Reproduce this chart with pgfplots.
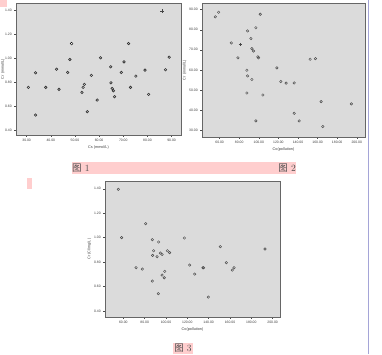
\documentclass[border=0pt]{standalone}
\usepackage{pgfplots}
\pgfplotsset{compat=1.18}
\usepackage{fontspec}
\setsansfont{Liberation Sans}
\newfontfamily\cjk{Noto Sans CJK SC}
\definecolor{panel}{RGB}{219,219,219}
\definecolor{pinkbg}{RGB}{255,206,206}
\definecolor{purpleline}{RGB}{165,165,215}
\definecolor{mk}{RGB}{70,70,70}
\pgfplotsset{
  spss/.style={
    scale only axis, anchor=south west,
    axis background/.style={fill=panel},
    axis line style={draw=black!60, line width=0.7pt},
    tick align=outside, major tick length=1.6pt,
    tick style={black!70, line width=0.4pt},
    xtick pos=bottom, ytick pos=left,
    tick label style={font=\sffamily\fontsize{3.4}{4}\selectfont, text=black!75},
    /pgf/number format/assume math mode=true,
    label style={font=\sffamily\fontsize{3.8}{4.5}\selectfont, text=black!75},
    xticklabel={\pgfmathprintnumber[fixed,fixed zerofill,precision=2]{\tick}},
    yticklabel={\pgfmathprintnumber[fixed,fixed zerofill,precision=2]{\tick}},
    xticklabel style={yshift=0.8pt},
    yticklabel style={xshift=0.8pt},
    xlabel style={yshift=3pt},
    ylabel style={yshift=-4pt},
  },
  dots/.style={only marks, mark=o, mark size=1.25pt, mark options={draw=mk, line width=0.45pt}},
}
\begin{document}
\begin{tikzpicture}
\useasboundingbox (0pt,0pt) rectangle (382pt,354pt);
\fill[white] (0pt,0pt) rectangle (382pt,354pt);
% decorations
\fill[pinkbg] (0pt,347pt) rectangle (7pt,354pt);
\fill[pinkbg] (72pt,180pt) rectangle (296pt,192pt);
\fill[pinkbg] (27pt,165pt) rectangle (32pt,176pt);
\fill[pinkbg] (173pt,0pt) rectangle (193pt,11pt);
\draw[purpleline, line width=1pt] (368pt,0pt) -- (368pt,354pt);
\node[anchor=west, inner sep=0pt, font=\fontsize{9.5}{10}\selectfont, text=black!70] at (72pt,186pt) {{\cjk 图} 1};
\node[anchor=east, inner sep=0pt, font=\fontsize{9.5}{10}\selectfont, text=black!70] at (296pt,186pt) {{\cjk 图} 2};
\node[anchor=center, inner sep=0pt, font=\fontsize{9.5}{10}\selectfont, text=black!70] at (183pt,5.5pt) {{\cjk 图} 3};

% ---------- Plot 1 ----------
\begin{axis}[spss, at={(16pt,219pt)}, width=165pt, height=132pt,
  xmin=25.6, xmax=93.9, ymin=0.358, ymax=1.461,
  xtick={30,40,50,60,70,80,90}, ytick={0.4,0.6,0.8,1.0,1.2,1.4},
  xlabel={Cs (mmol/L)}, ylabel={Cr (mmol/L)},
  ylabel style={yshift=-2.5pt},
  mark options={line width=0.6pt}]
\addplot[dots, mark options={draw=black!80, line width=0.6pt}] coordinates {
(30.7,0.756) (33.7,0.878) (33.7,0.525) (37.9,0.756) (42.4,0.908) (43.4,0.739)
(47.0,0.881) (47.9,0.989) (52.9,0.714) (53.4,0.756) (53.9,0.781)
(55.1,0.553) (56.8,0.856) (59.2,0.650) (60.6,1.003) (64.8,0.928) (64.9,0.794)
(65.4,0.747) (65.9,0.728) (66.4,0.678) (69.2,0.881) (70.3,0.969) (72.2,1.122)
(73.0,0.756) (75.2,0.850) (79.0,0.900) (80.5,0.697) (87.5,0.903) (89.0,1.008)
};
\addplot[only marks, mark=*, mark size=1.4pt, mark options={draw=none, fill=white}] coordinates {(48.6,1.122)};
\addplot[only marks, mark=+, mark size=1.8pt, mark options={draw=mk, line width=0.45pt}] coordinates {(86.1,1.394)};
\end{axis}

% ---------- Plot 2 ----------
\begin{axis}[spss, at={(202pt,217pt)}, width=163pt, height=134pt,
  xmin=42.0, xmax=208.4, ymin=26.6, ymax=93.3,
  xtick={60,80,...,200}, ytick={30,40,...,90},
  xlabel={Co(pollution)}, ylabel={Cr (mmol/L)}]
\addplot[dots] coordinates {
(55.6,86.4) (59.0,88.7) (101.4,87.7) (88.5,79.4) (97.0,81.0) (91.9,75.6)
(71.9,73.4) (92.9,70.6) (94.6,69.4) (78.7,66.0) (99.0,66.5) (99.7,66.0)
(87.8,59.8) (88.5,57.0) (92.9,55.2) (118.4,61.0) (152.4,65.3) (157.8,65.6)
(122.5,54.2) (127.9,53.4) (136.1,53.5) (87.8,48.5) (104.1,47.5) (163.6,44.2)
(194.5,43.1) (136.1,38.4) (141.2,34.6) (97.0,34.6) (165.3,31.8)
};
\addplot[only marks, mark=+, mark size=1.8pt, mark options={draw=mk, line width=0.45pt}] coordinates {(81.1,72.6)};
\end{axis}

% ---------- Plot 3 ----------
\begin{axis}[spss, at={(105pt,37pt)}, width=175pt, height=136pt,
  xmin=42.8, xmax=206.9, ymin=0.351, ymax=1.463,
  xtick={60,80,...,200}, ytick={0.4,0.6,0.8,1.0,1.2,1.4},
  xlabel={Co(pollution)}, ylabel={Cr (Cl/mg/L)}]
\addplot[dots] coordinates {
(55.3,1.395) (58.4,1.000) (80.9,1.114) (87.2,0.983) (93.1,0.964) (117.2,0.997)
(88.4,0.893) (87.5,0.855) (91.6,0.844) (94.7,0.874) (96.3,0.863) (101.3,0.893)
(103.4,0.877) (71.9,0.754) (77.8,0.743) (122.2,0.776) (98.8,0.724) (96.3,0.694)
(98.4,0.672) (87.2,0.645) (126.9,0.702) (134.7,0.754) (135.3,0.754) (150.9,0.926)
(156.6,0.795) (162.2,0.735) (163.8,0.754) (92.8,0.542) (139.7,0.514) (192.8,0.907)
};
\end{axis}
\end{tikzpicture}
\end{document}
